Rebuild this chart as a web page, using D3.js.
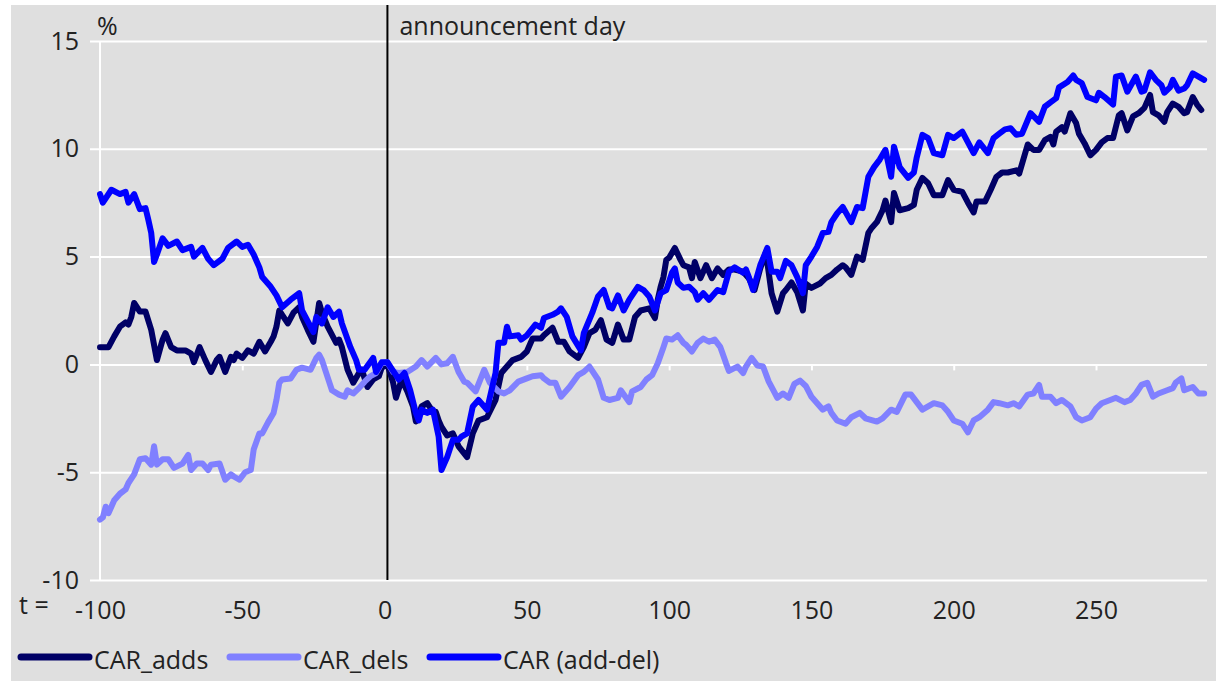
<!DOCTYPE html>
<html>
<head>
<meta charset="utf-8">
<script src="https://cdn.jsdelivr.net/npm/d3@7"></script>
<style>
  body { margin: 0; background: #fff; }
  text { font-family: "Open Sans", sans-serif; fill: #222; }
</style>
</head>
<body>
<div id="chart"></div>
<script>
// cumulative abnormal returns, [day, %]
const carAdds = [
  [-100,0.8],[-97,0.8],[-95,1.3],[-93,1.75],[-91,1.95],[-90,1.85],[-89,2.2],[-88,2.85],[-86,2.45],[-84,2.45],
  [-82,1.6],[-80,0.2],[-78,1.15],[-77,1.45],[-75,0.8],[-73,0.65],[-70,0.65],[-68,0.5],[-67,0.1],[-65,0.8],
  [-63,0.2],[-61,-0.35],[-59,0.2],[-58,0.35],[-56,-0.35],[-54,0.35],[-53,0.2],[-52,0.5],[-50,0.3],[-48,0.65],
  [-46,0.5],[-44,1.05],[-42,0.6],[-40,1.05],[-39,1.3],[-38,1.75],[-37,2.5],[-36,2.3],[-34,1.9],[-32,2.4],
  [-30,2.65],[-29,2.2],[-27,1.6],[-25,1.05],[-23,2.85],[-22,2.4],[-20,1.75],[-17,1.0],[-16,1.15],[-15,0.8],
  [-13,-0.25],[-11,-0.85],[-9,-0.4],[-8,-0.25],[-6,-1.05],[-4,-0.7],[-2,-0.55],[-1,-0.15],[1,0],[3,-0.85],
  [4,-1.55],[6,-0.7],[8,-1.25],[10,-1.95],[11,-2.65],[13,-1.95],[15,-1.8],[17,-2.2],[18,-2.2],[19,-2.6],
  [20,-2.9],[22,-3.3],[24,-3.2],[26,-3.8],[29,-4.3],[31,-3.2],[33,-2.6],[36,-2.45],[39,-1.65],[41,-0.4],
  [42,-0.25],[44,0.05],[45,0.2],[48,0.35],[50,0.6],[52,1.2],[55,1.2],[56,1.35],[59,1.7],[61,1.05],
  [63,1.05],[65,0.6],[66,0.5],[68,0.3],[70,0.8],[72,1.45],[74,1.6],[76,2.05],[78,1.15],[80,1.0],
  [82,1.85],[84,1.15],[86,1.15],[88,2.2],[90,2.5],[93,2.6],[95,2.15],[96,3.0],[97,3.6],[98,4.05],
  [99,4.85],[100,4.95],[102,5.4],[104,4.85],[105,4.6],[107,4.5],[108,4.0],[109,4.75],[111,4.0],[113,4.6],
  [115,4.0],[117,4.45],[119,4.15],[121,4.4],[123,4.4],[126,4.3],[128,4.0],[130,3.45],[132,4.45],[134,5.2],
  [136,3.3],[138,2.45],[140,3.3],[141,3.45],[143,3.8],[145,3.35],[147,2.5],[148,3.75],[150,3.55],[153,3.75],
  [155,4.0],[157,4.15],[159,4.4],[161,4.6],[162,4.5],[164,4.15],[166,5.0],[168,4.85],[170,6.1],[171,6.3],
  [173,6.6],[175,7.15],[176,7.6],[178,6.6],[179,7.95],[181,7.15],[184,7.25],[186,7.4],[187,8.1],[189,8.65],
  [191,8.4],[193,7.85],[196,7.85],[198,8.55],[200,8.1],[203,8.0],[205,7.5],[207,7.05],[208,7.55],[211,7.55],
  [213,8.1],[215,8.7],[217,8.9],[219,8.9],[222,9.0],[223,8.85],[226,10.2],[228,9.95],[230,9.95],[232,10.4],
  [234,10.55],[235,10.2],[236,10.8],[238,11.0],[239,10.8],[241,11.65],[243,11.2],[244,10.7],[246,10.25],[248,9.7],
  [250,9.95],[252,10.3],[254,10.5],[256,10.5],[258,11.55],[259,11.65],[261,10.85],[263,11.5],[265,11.65],[267,11.9],
  [269,12.5],[270,11.7],[272,11.55],[274,11.25],[275,11.7],[277,12.1],[279,11.95],[281,11.65],[282,11.7],[284,12.4],
  [285.5,12.05],[287,11.8]
];

const carDels = [
  [-100,-7.2],[-99,-7.1],[-98,-6.6],[-97,-6.9],[-95,-6.3],[-93,-6.0],[-91,-5.8],[-90,-5.5],[-88,-5.1],[-86,-4.4],
  [-84,-4.35],[-82,-4.65],[-81,-3.8],[-80,-4.65],[-78,-4.4],[-76,-4.4],[-74,-4.8],[-71,-4.6],[-69,-4.2],[-68,-4.9],
  [-66,-4.6],[-64,-4.6],[-62,-4.9],[-61,-4.65],[-58,-4.6],[-56,-5.35],[-54,-5.1],[-53,-5.2],[-51,-5.35],[-49,-5.0],
  [-47,-4.9],[-46,-3.95],[-44,-3.2],[-43,-3.2],[-41,-2.7],[-39,-2.25],[-38,-1.65],[-37,-0.85],[-36,-0.7],[-33,-0.65],
  [-31,-0.25],[-29,-0.15],[-26,-0.25],[-24,0.3],[-23,0.45],[-22,0.2],[-20,-0.6],[-18.5,-1.2],[-16,-1.4],[-14,-1.5],
  [-13,-1.2],[-11,-1.35],[-9,-1.1],[-7,-0.8],[-5,-0.55],[-3,-0.4],[-1,0.05],[1,0.1],[3,-0.35],[5,-0.4],
  [8,-0.35],[11,-0.1],[13,0.2],[15,-0.1],[18,0.3],[20,0],[22,0.05],[24,0.35],[26,-0.35],[28,-0.8],
  [29,-0.85],[32,-1.25],[35,-0.25],[37,-0.85],[40,-1.25],[42,-1.35],[44,-1.2],[47,-0.8],[50,-0.65],[52,-0.55],
  [55,-0.5],[56,-0.65],[58,-0.85],[60,-0.85],[62,-1.5],[65,-1.05],[68,-0.5],[70,-0.35],[72,-0.1],[75,-0.7],
  [77,-1.55],[79,-1.65],[82,-1.55],[83,-1.2],[86,-1.75],[87,-1.25],[90,-1.05],[92,-0.7],[94,-0.5],[96,0.05],
  [98,0.8],[99,1.2],[101,1.15],[103,1.35],[105,1.0],[106,0.9],[108,0.6],[110,1.0],[112,1.2],[114,1.05],
  [116,1.15],[118,0.8],[120,0.05],[121,-0.3],[124,-0.1],[126,-0.4],[127,-0.1],[129,0.3],[131,-0.05],[133,-0.1],
  [135,-0.8],[137,-1.3],[138,-1.55],[140,-1.35],[142,-1.55],[144,-0.9],[146,-0.75],[148,-1.0],[150,-1.5],[152,-1.8],
  [154,-2.1],[156,-1.95],[157,-2.25],[159,-2.6],[162,-2.75],[164,-2.45],[167,-2.25],[169,-2.5],[173,-2.65],[175,-2.5],
  [178,-2.1],[180,-2.2],[183,-1.4],[185,-1.4],[187,-1.75],[189,-2.1],[193,-1.8],[196,-1.9],[198,-2.2],[200,-2.6],
  [203,-2.75],[205,-3.15],[207,-2.6],[209,-2.45],[212,-2.1],[214,-1.75],[216,-1.8],[219,-1.9],[221,-1.8],[223,-1.95],
  [226,-1.4],[228,-1.35],[230,-0.95],[231,-1.5],[234,-1.5],[236,-1.8],[238,-1.65],[241,-1.95],[243,-2.45],[245,-2.6],
  [248,-2.45],[250,-2.05],[252,-1.8],[255,-1.65],[257,-1.55],[260,-1.75],[262,-1.65],[264,-1.35],[266,-0.95],[268,-0.85],
  [270,-1.5],[272,-1.35],[275,-1.2],[277,-1.1],[278,-0.85],[280,-0.65],[281,-1.2],[284,-1.05],[286,-1.35],[288,-1.35]
];

const carAddDel = [
  [-100,7.9],[-99,7.5],[-96,8.1],[-93,7.9],[-91,8.0],[-90,7.5],[-88,7.9],[-86,7.2],[-84,7.25],[-83,6.7],
  [-82,6.1],[-81,4.75],[-80,5.1],[-78,5.85],[-76,5.5],[-73,5.7],[-71,5.3],[-68,5.45],[-67,5.0],[-64,5.4],
  [-62,4.9],[-60,4.6],[-57,4.9],[-55,5.4],[-52,5.7],[-50,5.45],[-48,5.55],[-46,5.1],[-44,4.5],[-43,4.05],
  [-40,3.6],[-38,3.2],[-36,2.65],[-33,3.0],[-30,3.3],[-29,2.5],[-26,1.75],[-25,1.5],[-24,2.2],[-22,1.9],
  [-20,2.65],[-18,2.2],[-16,2.45],[-15,1.9],[-12,0.8],[-11,0.5],[-10,0.2],[-9,-0.25],[-7,-0.25],[-4,0.3],
  [-3,-0.35],[-1,0.1],[1,0.1],[2,-0.1],[4,-0.5],[5,-0.7],[7,-0.4],[9,-1.2],[11,-2.25],[12,-2.6],
  [13,-2.1],[15,-2.25],[17,-2.1],[19,-3.35],[20,-4.9],[22,-4.3],[24,-3.5],[26,-3.5],[27,-3.35],[29,-3.2],
  [31,-1.95],[33,-1.65],[36,-2.1],[39,-0.4],[40,1.0],[42,1.0],[43,1.75],[44,1.3],[47,1.35],[48,1.15],
  [50,1.35],[53,1.85],[55,1.7],[56,2.15],[59,2.3],[61,2.45],[62,2.6],[64,2.2],[66,1.3],[69,0.65],
  [70,1.45],[73,2.4],[75,3.15],[77,3.45],[79,2.65],[80,2.6],[82,3.2],[84,2.5],[86,3.0],[89,3.6],
  [91,3.45],[93,3.15],[95,2.5],[97,3.3],[99,3.45],[101,4.25],[102,4.45],[103,3.8],[105,3.55],[107,3.6],
  [109,3.35],[110,3.0],[112,3.3],[114,3.0],[117,3.45],[119,3.35],[121,4.3],[123,4.5],[126,4.25],[127,4.4],
  [128,4.05],[129.5,3.45],[132,4.6],[134.5,5.4],[136,4.3],[138,4.3],[139,4.0],[141,4.8],[143,4.6],[145,4.05],
  [147,3.3],[148,4.6],[150,5.0],[152,5.45],[154,6.1],[156,6.15],[157,6.6],[159,7.0],[161,7.3],[164,6.6],
  [166,7.3],[168,7.25],[170,8.7],[172,9.15],[174,9.5],[176,9.95],[178,8.7],[179,10.1],[181,9.15],[184,8.65],
  [186,8.9],[187,9.6],[189,10.65],[191,10.5],[193,9.8],[196,9.7],[198,10.65],[200,10.5],[203,10.8],[205,10.3],
  [207,9.8],[209,10.3],[212,9.8],[214,10.5],[216,10.7],[218,10.9],[220,10.95],[222,10.65],[224,10.7],[227,11.65],
  [230,11.25],[232,11.95],[234,12.15],[236,12.35],[237,12.85],[240,13.1],[242,13.4],[243,13.2],[245,13.05],[247,12.4],
  [250,12.25],[251,12.6],[253,12.4],[256,12.05],[257,13.35],[259,13.4],[261,12.65],[264,13.35],[266,12.65],[267,12.7],
  [269,13.55],[271,13.2],[273,12.95],[274,12.6],[276,12.85],[277,13.2],[279,12.7],[281,12.8],[282,12.95],[284,13.5],
  [286,13.35],[288,13.2]
];

const seriesNames = ["CAR_adds", "CAR_dels", "CAR (add-del)"];
const seriesColors = ["#000066", "#8080ff", "#0000ff"];
const yTicks = [-10, -5, 0, 5, 10, 15];
const xTicks = [-100, -50, 0, 50, 100, 150, 200, 250];
const announcementDay = 1;

const W = 1224, H = 684;
const FS = "25px";
const svg = d3.select("#chart").append("svg")
  .attr("width", W).attr("height", H);

svg.append("rect")
  .attr("x", 11).attr("y", 5)
  .attr("width", 1205).attr("height", 676)
  .attr("fill", "#dfdfdf");

const x = d3.scaleLinear().domain([-100, 289]).range([100, 1207]);
const y = d3.scaleLinear().domain([-10, 15]).range([580, 41]);
const plain = d => String(d);  // keep the hyphen minus like the original

// horizontal grid + y labels
const yAxis = svg.append("g")
  .attr("transform", "translate(90,0)")
  .call(d3.axisLeft(y).tickValues(yTicks).tickSize(-(1207 - 90)).tickPadding(11).tickFormat(plain));
yAxis.select(".domain").remove();
yAxis.selectAll("line").attr("stroke", "#fff").attr("stroke-width", 2);
yAxis.selectAll("text").style("font-size", FS).attr("fill", "#222");

// vertical grid at start
svg.append("line")
  .attr("x1", x(-100)).attr("x2", x(-100))
  .attr("y1", y(15)).attr("y2", y(-10))
  .attr("stroke", "#fff").attr("stroke-width", 2);

// little ticks hanging from the zero line
const zeroTicks = svg.append("g")
  .attr("transform", "translate(0," + y(0) + ")")
  .call(d3.axisBottom(x).tickValues(xTicks.filter(d => d !== -100 && d !== 0)).tickSize(6).tickFormat(""));
zeroTicks.select(".domain").remove();
zeroTicks.selectAll("line").attr("stroke", "#fff").attr("stroke-width", 2);

// x labels
const xAxis = svg.append("g")
  .attr("transform", "translate(0," + y(-10) + ")")
  .call(d3.axisBottom(x).tickValues(xTicks).tickSize(0).tickPadding(21).tickFormat(plain));
xAxis.select(".domain").remove();
xAxis.selectAll("text").style("font-size", FS).attr("fill", "#222");

// announcement day line
svg.append("line")
  .attr("x1", x(announcementDay)).attr("x2", x(announcementDay))
  .attr("y1", 5).attr("y2", y(-10))
  .attr("stroke", "#000").attr("stroke-width", 2);

svg.append("text").attr("x", x(announcementDay) + 12).attr("y", 35)
  .style("font-size", FS).text("announcement day");
svg.append("text").attr("x", 97).attr("y", 35)
  .style("font-size", FS).text("%");
svg.append("text").attr("x", 19).attr("y", 614)
  .style("font-size", FS).text("t =");

// lines
const line = d3.line().x(d => x(d[0])).y(d => y(d[1]));
const allSeries = [carAdds, carDels, carAddDel];
svg.selectAll("path.car")
  .data(allSeries)
  .enter().append("path")
  .attr("class", "car")
  .attr("d", line)
  .attr("fill", "none")
  .attr("stroke", (d, i) => seriesColors[i])
  .attr("stroke-width", 6)
  .attr("stroke-linejoin", "round")
  .attr("stroke-linecap", "round");

// legend
const legendX = [18, 227, 427];
const legend = svg.append("g");
seriesNames.forEach(function(name, i) {
  legend.append("line")
    .attr("x1", legendX[i] + 3).attr("x2", legendX[i] + 71)
    .attr("y1", 657).attr("y2", 657)
    .attr("stroke", seriesColors[i]).attr("stroke-width", 7)
    .attr("stroke-linecap", "round");
  legend.append("text")
    .attr("x", legendX[i] + 76).attr("y", 669)
    .style("font-size", FS).text(name);
});
</script>
</body>
</html>
